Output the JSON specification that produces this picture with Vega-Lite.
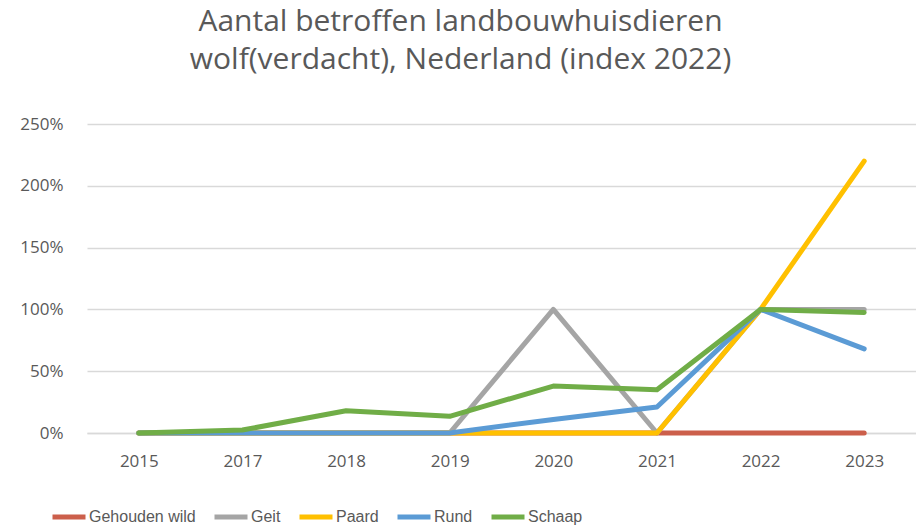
{
  "$schema": "https://vega.github.io/schema/vega-lite/v6.json",
  "autosize": {"type": "none"},
  "width": 829,
  "height": 309,
  "padding": {"left": 87, "top": 124, "right": 0, "bottom": 95},
  "background": "white",
  "title": {
    "text": ["Aantal betroffen landbouwhuisdieren", "wolf(verdacht), Nederland (index 2022)"],
    "font": "Open Sans",
    "fontSize": 30,
    "fontWeight": "normal",
    "color": "#595959",
    "lineHeight": 38,
    "anchor": "middle",
    "dx": -41,
    "offset": 40
  },
  "data": {
    "values": [
      {"jaar": "2015", "soort": "Gehouden wild", "waarde": 0},
      {"jaar": "2017", "soort": "Gehouden wild", "waarde": 0},
      {"jaar": "2018", "soort": "Gehouden wild", "waarde": 0},
      {"jaar": "2019", "soort": "Gehouden wild", "waarde": 0},
      {"jaar": "2020", "soort": "Gehouden wild", "waarde": 0},
      {"jaar": "2021", "soort": "Gehouden wild", "waarde": 0},
      {"jaar": "2022", "soort": "Gehouden wild", "waarde": 0},
      {"jaar": "2023", "soort": "Gehouden wild", "waarde": 0},
      {"jaar": "2015", "soort": "Geit", "waarde": 0},
      {"jaar": "2017", "soort": "Geit", "waarde": 0},
      {"jaar": "2018", "soort": "Geit", "waarde": 0},
      {"jaar": "2019", "soort": "Geit", "waarde": 0},
      {"jaar": "2020", "soort": "Geit", "waarde": 1},
      {"jaar": "2021", "soort": "Geit", "waarde": 0},
      {"jaar": "2022", "soort": "Geit", "waarde": 1},
      {"jaar": "2023", "soort": "Geit", "waarde": 1},
      {"jaar": "2015", "soort": "Paard", "waarde": 0},
      {"jaar": "2017", "soort": "Paard", "waarde": 0},
      {"jaar": "2018", "soort": "Paard", "waarde": 0},
      {"jaar": "2019", "soort": "Paard", "waarde": 0},
      {"jaar": "2020", "soort": "Paard", "waarde": 0},
      {"jaar": "2021", "soort": "Paard", "waarde": 0},
      {"jaar": "2022", "soort": "Paard", "waarde": 1},
      {"jaar": "2023", "soort": "Paard", "waarde": 2.2},
      {"jaar": "2015", "soort": "Rund", "waarde": 0},
      {"jaar": "2017", "soort": "Rund", "waarde": 0},
      {"jaar": "2018", "soort": "Rund", "waarde": 0},
      {"jaar": "2019", "soort": "Rund", "waarde": 0},
      {"jaar": "2020", "soort": "Rund", "waarde": 0.11},
      {"jaar": "2021", "soort": "Rund", "waarde": 0.21},
      {"jaar": "2022", "soort": "Rund", "waarde": 1},
      {"jaar": "2023", "soort": "Rund", "waarde": 0.68},
      {"jaar": "2015", "soort": "Schaap", "waarde": 0},
      {"jaar": "2017", "soort": "Schaap", "waarde": 0.024},
      {"jaar": "2018", "soort": "Schaap", "waarde": 0.18},
      {"jaar": "2019", "soort": "Schaap", "waarde": 0.135},
      {"jaar": "2020", "soort": "Schaap", "waarde": 0.38},
      {"jaar": "2021", "soort": "Schaap", "waarde": 0.35},
      {"jaar": "2022", "soort": "Schaap", "waarde": 1},
      {"jaar": "2023", "soort": "Schaap", "waarde": 0.975}
    ]
  },
  "mark": {"type": "line", "strokeWidth": 5, "strokeCap": "round", "strokeJoin": "round"},
  "encoding": {
    "x": {
      "field": "jaar",
      "type": "ordinal",
      "title": null,
      "axis": {
        "labelAngle": 0,
        "labelFont": "Open Sans",
        "labelFontSize": 17,
        "labelColor": "#595959",
        "labelPadding": 20,
        "ticks": false,
        "domainColor": "#D9D9D9",
        "domainWidth": 1.5,
        "grid": false
      }
    },
    "y": {
      "field": "waarde",
      "type": "quantitative",
      "title": null,
      "scale": {"domain": [0, 2.5], "nice": false},
      "axis": {
        "values": [0, 0.5, 1, 1.5, 2, 2.5],
        "format": ".0%",
        "labelFont": "Open Sans",
        "labelFontSize": 17,
        "labelColor": "#595959",
        "labelPadding": 24,
        "ticks": false,
        "domain": false,
        "gridColor": "#D9D9D9",
        "gridWidth": 1.5
      }
    },
    "color": {
      "field": "soort",
      "type": "nominal",
      "scale": {
        "domain": ["Gehouden wild", "Geit", "Paard", "Rund", "Schaap"],
        "range": ["#CC5F4B", "#A5A5A5", "#FFC000", "#5B9BD5", "#70AD47"]
      },
      "legend": {
        "title": null,
        "orient": "none",
        "direction": "horizontal",
        "legendX": -37,
        "legendY": 374,
        "symbolType": "stroke",
        "symbolSize": 1089,
        "symbolStrokeWidth": 5,
        "labelFont": "Liberation Sans",
        "labelFontSize": 16,
        "labelColor": "#595959",
        "labelOffset": 1,
        "columnPadding": 8
      }
    }
  },
  "config": {"view": {"stroke": null}}
}
